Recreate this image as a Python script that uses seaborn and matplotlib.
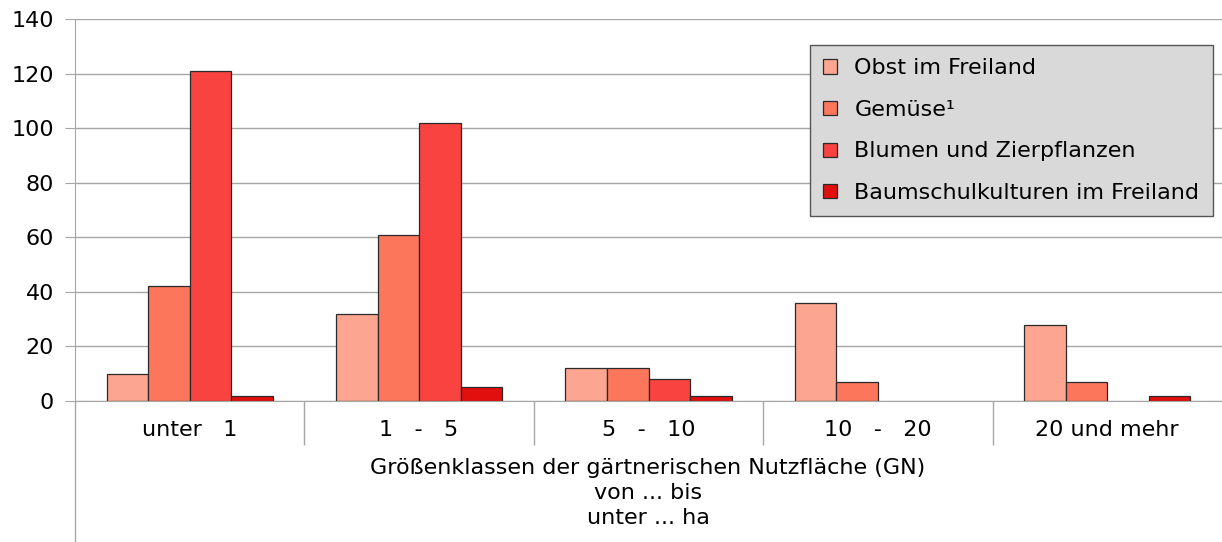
import pandas as pd
import numpy as np
import matplotlib.pyplot as plt
import seaborn as sns

# data
groups = ["unter   1", "1   -   5", "5   -   10", "10   -   20", "20 und mehr"]
series = ["Obst im Freiland", "Gemüse\u00b9", "Blumen und Zierpflanzen", "Baumschulkulturen im Freiland"]
obst = [10, 32, 12, 36, 28]
gemuese = [42, 61, 12, 7, 7]
blumen = [121, 102, 8, 0, 0]
baumschule = [2, 5, 2, 0, 2]
colors = ["#fca590", "#fc765c", "#f84340", "#e20f0f"]

df = pd.DataFrame({"Gruppe": groups * 4,
                   "Art": np.repeat(series, len(groups)),
                   "Wert": obst + gemuese + blumen + baumschule})

sns.set_style("white")
plt.rcParams["font.family"] = ["DejaVu Sans"]
plt.rcParams["text.color"] = "black"
plt.rcParams["xtick.labelcolor"] = "black"
plt.rcParams["ytick.labelcolor"] = "black"
fs = 16

W, H = 1222, 542
fig = plt.figure(figsize=(W / 100, H / 100), dpi=100)
ax = fig.add_axes([75 / W, (H - 401) / H, (W - 75) / W, 382 / H])

sns.barplot(data=df, x="Gruppe", y="Wert", hue="Art", order=groups, hue_order=series,
            palette=colors, width=0.725, edgecolor="#2a2a2a", linewidth=0.9,
            saturation=1, ax=ax)
for p in ax.patches:
    if p.get_height() == 0:
        p.set_linewidth(0)

ax.set_ylim(0, 140)
ax.set_xlim(-0.5, len(groups) - 0.5)
ax.set_yticks(range(0, 141, 20))
ax.yaxis.grid(True, color="#a6a6a6", linewidth=1)
ax.set_axisbelow(True)
for s in ["top", "right"]:
    ax.spines[s].set_visible(False)
ax.spines["left"].set_color("#a6a6a6")
ax.spines["bottom"].set_color("#a6a6a6")
ax.tick_params(axis="y", left=True, length=7, color="#a6a6a6", labelsize=fs, pad=8)
ax.tick_params(axis="x", which="major", length=0, labelsize=fs, pad=14)
ax.set_xticks(np.arange(0.5, len(groups) - 1, 1), minor=True)
ax.tick_params(axis="x", which="minor", bottom=True, length=31.5, color="#a6a6a6", width=1)
ax.set_xlabel("")
ax.set_ylabel("")

# left axis line continues down to the bottom of the figure
fig.add_artist(plt.Line2D([75 / W, 75 / W], [0, (H - 401) / H], color="#a6a6a6", linewidth=1))

fig.text(648 / W, 1 - 458 / H, "Größenklassen der gärtnerischen Nutzfläche (GN)\nvon ... bis\nunter ... ha",
         ha="center", va="top", fontsize=fs, linespacing=1.32)

leg = ax.legend(loc="upper left", bbox_to_anchor=(735 / 1147, (401 - 45) / 382),
                frameon=True, fancybox=False, facecolor="#d9d9d9", edgecolor="#555555",
                fontsize=fs, labelspacing=0.97, handlelength=0.6, handleheight=0.6,
                handletextpad=0.8, borderaxespad=0, borderpad=0.6)
leg.get_frame().set_linewidth(1)
leg.get_frame().set_alpha(1)
for h in leg.legend_handles:
    h.set_edgecolor("#2a2a2a")
    h.set_linewidth(0.9)

fig.savefig("out.png", dpi=100)
